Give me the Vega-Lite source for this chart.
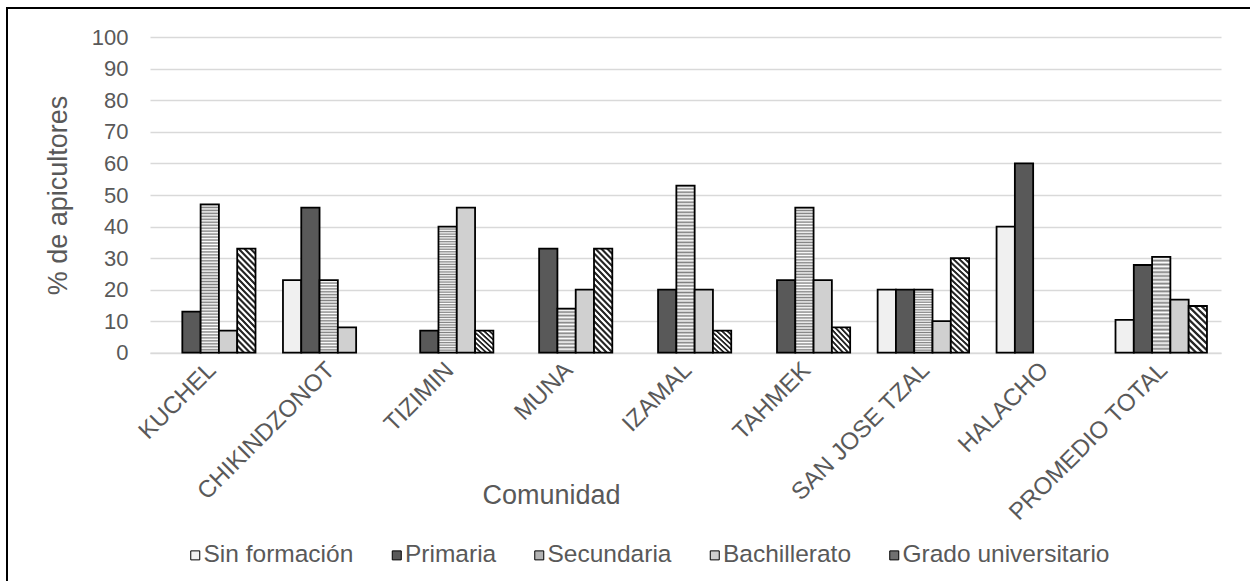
{
  "$schema": "https://vega.github.io/schema/vega-lite/v6.json",
  "autosize": {"type": "none"},
  "width": 1253,
  "height": 583,
  "padding": {"left": 7, "top": 8, "right": -10, "bottom": -10},
  "background": "#ffffff",
  "data": {
    "values": [
      {"comunidad": "KUCHEL", "nivel": "Sin formación", "pct": 0},
      {"comunidad": "KUCHEL", "nivel": "Primaria", "pct": 13},
      {"comunidad": "KUCHEL", "nivel": "Secundaria", "pct": 47},
      {"comunidad": "KUCHEL", "nivel": "Bachillerato", "pct": 7},
      {"comunidad": "KUCHEL", "nivel": "Grado universitario", "pct": 33},
      {"comunidad": "CHIKINDZONOT", "nivel": "Sin formación", "pct": 23},
      {"comunidad": "CHIKINDZONOT", "nivel": "Primaria", "pct": 46},
      {"comunidad": "CHIKINDZONOT", "nivel": "Secundaria", "pct": 23},
      {"comunidad": "CHIKINDZONOT", "nivel": "Bachillerato", "pct": 8},
      {"comunidad": "CHIKINDZONOT", "nivel": "Grado universitario", "pct": 0},
      {"comunidad": "TIZIMIN", "nivel": "Sin formación", "pct": 0},
      {"comunidad": "TIZIMIN", "nivel": "Primaria", "pct": 7},
      {"comunidad": "TIZIMIN", "nivel": "Secundaria", "pct": 40},
      {"comunidad": "TIZIMIN", "nivel": "Bachillerato", "pct": 46},
      {"comunidad": "TIZIMIN", "nivel": "Grado universitario", "pct": 7},
      {"comunidad": "MUNA", "nivel": "Sin formación", "pct": 0},
      {"comunidad": "MUNA", "nivel": "Primaria", "pct": 33},
      {"comunidad": "MUNA", "nivel": "Secundaria", "pct": 14},
      {"comunidad": "MUNA", "nivel": "Bachillerato", "pct": 20},
      {"comunidad": "MUNA", "nivel": "Grado universitario", "pct": 33},
      {"comunidad": "IZAMAL", "nivel": "Sin formación", "pct": 0},
      {"comunidad": "IZAMAL", "nivel": "Primaria", "pct": 20},
      {"comunidad": "IZAMAL", "nivel": "Secundaria", "pct": 53},
      {"comunidad": "IZAMAL", "nivel": "Bachillerato", "pct": 20},
      {"comunidad": "IZAMAL", "nivel": "Grado universitario", "pct": 7},
      {"comunidad": "TAHMEK", "nivel": "Sin formación", "pct": 0},
      {"comunidad": "TAHMEK", "nivel": "Primaria", "pct": 23},
      {"comunidad": "TAHMEK", "nivel": "Secundaria", "pct": 46},
      {"comunidad": "TAHMEK", "nivel": "Bachillerato", "pct": 23},
      {"comunidad": "TAHMEK", "nivel": "Grado universitario", "pct": 8},
      {"comunidad": "SAN JOSE TZAL", "nivel": "Sin formación", "pct": 20},
      {"comunidad": "SAN JOSE TZAL", "nivel": "Primaria", "pct": 20},
      {"comunidad": "SAN JOSE TZAL", "nivel": "Secundaria", "pct": 20},
      {"comunidad": "SAN JOSE TZAL", "nivel": "Bachillerato", "pct": 10},
      {"comunidad": "SAN JOSE TZAL", "nivel": "Grado universitario", "pct": 30},
      {"comunidad": "HALACHO", "nivel": "Sin formación", "pct": 40},
      {"comunidad": "HALACHO", "nivel": "Primaria", "pct": 60},
      {"comunidad": "HALACHO", "nivel": "Secundaria", "pct": 0},
      {"comunidad": "HALACHO", "nivel": "Bachillerato", "pct": 0},
      {"comunidad": "HALACHO", "nivel": "Grado universitario", "pct": 0},
      {"comunidad": "PROMEDIO TOTAL", "nivel": "Sin formación", "pct": 10.4},
      {"comunidad": "PROMEDIO TOTAL", "nivel": "Primaria", "pct": 27.8},
      {"comunidad": "PROMEDIO TOTAL", "nivel": "Secundaria", "pct": 30.4},
      {"comunidad": "PROMEDIO TOTAL", "nivel": "Bachillerato", "pct": 16.8},
      {"comunidad": "PROMEDIO TOTAL", "nivel": "Grado universitario", "pct": 14.8}
    ]
  },
  "transform": [{"filter": "datum.pct > 0"}],
  "mark": {"type": "bar", "stroke": "#000000", "strokeWidth": 1.8},
  "encoding": {
    "x": {
      "field": "comunidad",
      "type": "nominal",
      "sort": ["KUCHEL", "CHIKINDZONOT", "TIZIMIN", "MUNA", "IZAMAL", "TAHMEK", "SAN JOSE TZAL", "HALACHO", "PROMEDIO TOTAL"],
      "scale": {"range": [143, 1214], "paddingInner": 0.231, "paddingOuter": 0.118},
      "axis": {
        "title": "Comunidad",
        "labelAngle": -45,
        "labelFontSize": 24,
        "labelColor": "#595959",
        "labelPadding": 5,
        "labelOffset": -6,
        "labelLimit": 0,
        "labelOverlap": false,
        "ticks": false,
        "grid": false,
        "domainColor": "#d9d9d9",
        "domainWidth": 1.5,
        "offset": -238.3,
        "titleFontSize": 27,
        "titleColor": "#595959",
        "titleFontWeight": "normal",
        "titleX": 544,
        "titleY": 150.6,
        "titleBaseline": "alphabetic"
      }
    },
    "xOffset": {
      "field": "nivel",
      "type": "nominal",
      "scale": {"domain": ["Sin formación", "Primaria", "Secundaria", "Bachillerato", "Grado universitario"], "paddingInner": 0, "paddingOuter": 0}
    },
    "y": {
      "field": "pct",
      "type": "quantitative",
      "scale": {"domain": [0, 100], "range": [344.7, 29.3], "nice": false},
      "axis": {
        "title": "% de apicultores",
        "values": [0, 10, 20, 30, 40, 50, 60, 70, 80, 90, 100],
        "grid": true,
        "gridColor": "#d9d9d9",
        "gridWidth": 1.5,
        "domain": false,
        "ticks": false,
        "labelFontSize": 22,
        "labelColor": "#595959",
        "labelPadding": 22,
        "labelOverlap": false,
        "offset": -143,
        "titleFontSize": 27,
        "titleColor": "#595959",
        "titleFontWeight": "normal",
        "titleX": -83.5,
        "titleBaseline": "alphabetic"
      }
    },
    "fill": {
      "condition": [
        {
          "test": "datum.nivel === 'Secundaria' && datum.pct >= 35",
          "value": {
            "gradient": "linear", "x1": 0, "y1": 0, "x2": 0, "y2": 1,
            "stops": [
              {"offset": 0, "color": "#808080"}, {"offset": 0.01, "color": "#ffffff"}, {"offset": 0.02, "color": "#808080"}, {"offset": 0.03, "color": "#ffffff"},
              {"offset": 0.04, "color": "#808080"}, {"offset": 0.05, "color": "#ffffff"}, {"offset": 0.06, "color": "#808080"}, {"offset": 0.07, "color": "#ffffff"},
              {"offset": 0.08, "color": "#808080"}, {"offset": 0.09, "color": "#ffffff"}, {"offset": 0.1, "color": "#808080"}, {"offset": 0.11, "color": "#ffffff"},
              {"offset": 0.12, "color": "#808080"}, {"offset": 0.13, "color": "#ffffff"}, {"offset": 0.14, "color": "#808080"}, {"offset": 0.15, "color": "#ffffff"},
              {"offset": 0.16, "color": "#808080"}, {"offset": 0.17, "color": "#ffffff"}, {"offset": 0.18, "color": "#808080"}, {"offset": 0.19, "color": "#ffffff"},
              {"offset": 0.2, "color": "#808080"}, {"offset": 0.21, "color": "#ffffff"}, {"offset": 0.22, "color": "#808080"}, {"offset": 0.23, "color": "#ffffff"},
              {"offset": 0.24, "color": "#808080"}, {"offset": 0.25, "color": "#ffffff"}, {"offset": 0.26, "color": "#808080"}, {"offset": 0.27, "color": "#ffffff"},
              {"offset": 0.28, "color": "#808080"}, {"offset": 0.29, "color": "#ffffff"}, {"offset": 0.3, "color": "#808080"}, {"offset": 0.31, "color": "#ffffff"},
              {"offset": 0.32, "color": "#808080"}, {"offset": 0.33, "color": "#ffffff"}, {"offset": 0.34, "color": "#808080"}, {"offset": 0.35, "color": "#ffffff"},
              {"offset": 0.36, "color": "#808080"}, {"offset": 0.37, "color": "#ffffff"}, {"offset": 0.38, "color": "#808080"}, {"offset": 0.39, "color": "#ffffff"},
              {"offset": 0.4, "color": "#808080"}, {"offset": 0.41, "color": "#ffffff"}, {"offset": 0.42, "color": "#808080"}, {"offset": 0.43, "color": "#ffffff"},
              {"offset": 0.44, "color": "#808080"}, {"offset": 0.45, "color": "#ffffff"}, {"offset": 0.46, "color": "#808080"}, {"offset": 0.47, "color": "#ffffff"},
              {"offset": 0.48, "color": "#808080"}, {"offset": 0.49, "color": "#ffffff"}, {"offset": 0.5, "color": "#808080"}, {"offset": 0.51, "color": "#ffffff"},
              {"offset": 0.52, "color": "#808080"}, {"offset": 0.53, "color": "#ffffff"}, {"offset": 0.54, "color": "#808080"}, {"offset": 0.55, "color": "#ffffff"},
              {"offset": 0.56, "color": "#808080"}, {"offset": 0.57, "color": "#ffffff"}, {"offset": 0.58, "color": "#808080"}, {"offset": 0.59, "color": "#ffffff"},
              {"offset": 0.6, "color": "#808080"}, {"offset": 0.61, "color": "#ffffff"}, {"offset": 0.62, "color": "#808080"}, {"offset": 0.63, "color": "#ffffff"},
              {"offset": 0.64, "color": "#808080"}, {"offset": 0.65, "color": "#ffffff"}, {"offset": 0.66, "color": "#808080"}, {"offset": 0.67, "color": "#ffffff"},
              {"offset": 0.68, "color": "#808080"}, {"offset": 0.69, "color": "#ffffff"}, {"offset": 0.7, "color": "#808080"}, {"offset": 0.71, "color": "#ffffff"},
              {"offset": 0.72, "color": "#808080"}, {"offset": 0.73, "color": "#ffffff"}, {"offset": 0.74, "color": "#808080"}, {"offset": 0.75, "color": "#ffffff"},
              {"offset": 0.76, "color": "#808080"}, {"offset": 0.77, "color": "#ffffff"}, {"offset": 0.78, "color": "#808080"}, {"offset": 0.79, "color": "#ffffff"},
              {"offset": 0.8, "color": "#808080"}, {"offset": 0.81, "color": "#ffffff"}, {"offset": 0.82, "color": "#808080"}, {"offset": 0.83, "color": "#ffffff"},
              {"offset": 0.84, "color": "#808080"}, {"offset": 0.85, "color": "#ffffff"}, {"offset": 0.86, "color": "#808080"}, {"offset": 0.87, "color": "#ffffff"},
              {"offset": 0.88, "color": "#808080"}, {"offset": 0.89, "color": "#ffffff"}, {"offset": 0.9, "color": "#808080"}, {"offset": 0.91, "color": "#ffffff"},
              {"offset": 0.92, "color": "#808080"}, {"offset": 0.93, "color": "#ffffff"}, {"offset": 0.94, "color": "#808080"}, {"offset": 0.95, "color": "#ffffff"},
              {"offset": 0.96, "color": "#808080"}, {"offset": 0.97, "color": "#ffffff"}, {"offset": 0.98, "color": "#808080"}, {"offset": 0.99, "color": "#ffffff"},
              {"offset": 1, "color": "#808080"}
            ]
          }
        },
        {
          "test": "datum.nivel === 'Secundaria' && datum.pct >= 17",
          "value": {
            "gradient": "linear", "x1": 0, "y1": 0, "x2": 0, "y2": 1,
            "stops": [
              {"offset": 0, "color": "#808080"}, {"offset": 0.02, "color": "#ffffff"}, {"offset": 0.04, "color": "#808080"}, {"offset": 0.06, "color": "#ffffff"},
              {"offset": 0.08, "color": "#808080"}, {"offset": 0.1, "color": "#ffffff"}, {"offset": 0.12, "color": "#808080"}, {"offset": 0.14, "color": "#ffffff"},
              {"offset": 0.16, "color": "#808080"}, {"offset": 0.18, "color": "#ffffff"}, {"offset": 0.2, "color": "#808080"}, {"offset": 0.22, "color": "#ffffff"},
              {"offset": 0.24, "color": "#808080"}, {"offset": 0.26, "color": "#ffffff"}, {"offset": 0.28, "color": "#808080"}, {"offset": 0.3, "color": "#ffffff"},
              {"offset": 0.32, "color": "#808080"}, {"offset": 0.34, "color": "#ffffff"}, {"offset": 0.36, "color": "#808080"}, {"offset": 0.38, "color": "#ffffff"},
              {"offset": 0.4, "color": "#808080"}, {"offset": 0.42, "color": "#ffffff"}, {"offset": 0.44, "color": "#808080"}, {"offset": 0.46, "color": "#ffffff"},
              {"offset": 0.48, "color": "#808080"}, {"offset": 0.5, "color": "#ffffff"}, {"offset": 0.52, "color": "#808080"}, {"offset": 0.54, "color": "#ffffff"},
              {"offset": 0.56, "color": "#808080"}, {"offset": 0.58, "color": "#ffffff"}, {"offset": 0.6, "color": "#808080"}, {"offset": 0.62, "color": "#ffffff"},
              {"offset": 0.64, "color": "#808080"}, {"offset": 0.66, "color": "#ffffff"}, {"offset": 0.68, "color": "#808080"}, {"offset": 0.7, "color": "#ffffff"},
              {"offset": 0.72, "color": "#808080"}, {"offset": 0.74, "color": "#ffffff"}, {"offset": 0.76, "color": "#808080"}, {"offset": 0.78, "color": "#ffffff"},
              {"offset": 0.8, "color": "#808080"}, {"offset": 0.82, "color": "#ffffff"}, {"offset": 0.84, "color": "#808080"}, {"offset": 0.86, "color": "#ffffff"},
              {"offset": 0.88, "color": "#808080"}, {"offset": 0.9, "color": "#ffffff"}, {"offset": 0.92, "color": "#808080"}, {"offset": 0.94, "color": "#ffffff"},
              {"offset": 0.96, "color": "#808080"}, {"offset": 0.98, "color": "#ffffff"}, {"offset": 1, "color": "#808080"}
            ]
          }
        },
        {
          "test": "datum.nivel === 'Secundaria'",
          "value": {
            "gradient": "linear", "x1": 0, "y1": 0, "x2": 0, "y2": 1,
            "stops": [
              {"offset": 0, "color": "#808080"}, {"offset": 0.04, "color": "#ffffff"}, {"offset": 0.08, "color": "#808080"}, {"offset": 0.12, "color": "#ffffff"},
              {"offset": 0.16, "color": "#808080"}, {"offset": 0.2, "color": "#ffffff"}, {"offset": 0.24, "color": "#808080"}, {"offset": 0.28, "color": "#ffffff"},
              {"offset": 0.32, "color": "#808080"}, {"offset": 0.36, "color": "#ffffff"}, {"offset": 0.4, "color": "#808080"}, {"offset": 0.44, "color": "#ffffff"},
              {"offset": 0.48, "color": "#808080"}, {"offset": 0.52, "color": "#ffffff"}, {"offset": 0.56, "color": "#808080"}, {"offset": 0.6, "color": "#ffffff"},
              {"offset": 0.64, "color": "#808080"}, {"offset": 0.68, "color": "#ffffff"}, {"offset": 0.72, "color": "#808080"}, {"offset": 0.76, "color": "#ffffff"},
              {"offset": 0.8, "color": "#808080"}, {"offset": 0.84, "color": "#ffffff"}, {"offset": 0.88, "color": "#808080"}, {"offset": 0.92, "color": "#ffffff"},
              {"offset": 0.96, "color": "#808080"}, {"offset": 1, "color": "#ffffff"}
            ]
          }
        },
        {
          "test": "datum.nivel === 'Grado universitario' && datum.pct >= 25",
          "value": {
            "gradient": "linear", "x1": 0, "y1": 1, "x2": 0.208, "y2": -0.144,
            "stops": [
              {"offset": 0, "color": "#262626"}, {"offset": 0.015, "color": "#262626"}, {"offset": 0.025, "color": "#ffffff"}, {"offset": 0.04, "color": "#ffffff"},
              {"offset": 0.05, "color": "#262626"}, {"offset": 0.065, "color": "#262626"}, {"offset": 0.075, "color": "#ffffff"}, {"offset": 0.09, "color": "#ffffff"},
              {"offset": 0.1, "color": "#262626"}, {"offset": 0.115, "color": "#262626"}, {"offset": 0.125, "color": "#ffffff"}, {"offset": 0.14, "color": "#ffffff"},
              {"offset": 0.15, "color": "#262626"}, {"offset": 0.165, "color": "#262626"}, {"offset": 0.175, "color": "#ffffff"}, {"offset": 0.19, "color": "#ffffff"},
              {"offset": 0.2, "color": "#262626"}, {"offset": 0.215, "color": "#262626"}, {"offset": 0.225, "color": "#ffffff"}, {"offset": 0.24, "color": "#ffffff"},
              {"offset": 0.25, "color": "#262626"}, {"offset": 0.265, "color": "#262626"}, {"offset": 0.275, "color": "#ffffff"}, {"offset": 0.29, "color": "#ffffff"},
              {"offset": 0.3, "color": "#262626"}, {"offset": 0.315, "color": "#262626"}, {"offset": 0.325, "color": "#ffffff"}, {"offset": 0.34, "color": "#ffffff"},
              {"offset": 0.35, "color": "#262626"}, {"offset": 0.365, "color": "#262626"}, {"offset": 0.375, "color": "#ffffff"}, {"offset": 0.39, "color": "#ffffff"},
              {"offset": 0.4, "color": "#262626"}, {"offset": 0.415, "color": "#262626"}, {"offset": 0.425, "color": "#ffffff"}, {"offset": 0.44, "color": "#ffffff"},
              {"offset": 0.45, "color": "#262626"}, {"offset": 0.465, "color": "#262626"}, {"offset": 0.475, "color": "#ffffff"}, {"offset": 0.49, "color": "#ffffff"},
              {"offset": 0.5, "color": "#262626"}, {"offset": 0.515, "color": "#262626"}, {"offset": 0.525, "color": "#ffffff"}, {"offset": 0.54, "color": "#ffffff"},
              {"offset": 0.55, "color": "#262626"}, {"offset": 0.565, "color": "#262626"}, {"offset": 0.575, "color": "#ffffff"}, {"offset": 0.59, "color": "#ffffff"},
              {"offset": 0.6, "color": "#262626"}, {"offset": 0.615, "color": "#262626"}, {"offset": 0.625, "color": "#ffffff"}, {"offset": 0.64, "color": "#ffffff"},
              {"offset": 0.65, "color": "#262626"}, {"offset": 0.665, "color": "#262626"}, {"offset": 0.675, "color": "#ffffff"}, {"offset": 0.69, "color": "#ffffff"},
              {"offset": 0.7, "color": "#262626"}, {"offset": 0.715, "color": "#262626"}, {"offset": 0.725, "color": "#ffffff"}, {"offset": 0.74, "color": "#ffffff"},
              {"offset": 0.75, "color": "#262626"}, {"offset": 0.765, "color": "#262626"}, {"offset": 0.775, "color": "#ffffff"}, {"offset": 0.79, "color": "#ffffff"},
              {"offset": 0.8, "color": "#262626"}, {"offset": 0.815, "color": "#262626"}, {"offset": 0.825, "color": "#ffffff"}, {"offset": 0.84, "color": "#ffffff"},
              {"offset": 0.85, "color": "#262626"}, {"offset": 0.865, "color": "#262626"}, {"offset": 0.875, "color": "#ffffff"}, {"offset": 0.89, "color": "#ffffff"},
              {"offset": 0.9, "color": "#262626"}, {"offset": 0.915, "color": "#262626"}, {"offset": 0.925, "color": "#ffffff"}, {"offset": 0.94, "color": "#ffffff"},
              {"offset": 0.95, "color": "#262626"}, {"offset": 0.965, "color": "#262626"}, {"offset": 0.975, "color": "#ffffff"}, {"offset": 0.99, "color": "#ffffff"},
              {"offset": 1, "color": "#262626"}
            ]
          }
        },
        {
          "test": "datum.nivel === 'Grado universitario' && datum.pct >= 12",
          "value": {
            "gradient": "linear", "x1": 0, "y1": 1, "x2": 0.464, "y2": -0.206,
            "stops": [
              {"offset": 0, "color": "#262626"}, {"offset": 0.03, "color": "#262626"}, {"offset": 0.05, "color": "#ffffff"}, {"offset": 0.08, "color": "#ffffff"},
              {"offset": 0.1, "color": "#262626"}, {"offset": 0.13, "color": "#262626"}, {"offset": 0.15, "color": "#ffffff"}, {"offset": 0.18, "color": "#ffffff"},
              {"offset": 0.2, "color": "#262626"}, {"offset": 0.23, "color": "#262626"}, {"offset": 0.25, "color": "#ffffff"}, {"offset": 0.28, "color": "#ffffff"},
              {"offset": 0.3, "color": "#262626"}, {"offset": 0.33, "color": "#262626"}, {"offset": 0.35, "color": "#ffffff"}, {"offset": 0.38, "color": "#ffffff"},
              {"offset": 0.4, "color": "#262626"}, {"offset": 0.43, "color": "#262626"}, {"offset": 0.45, "color": "#ffffff"}, {"offset": 0.48, "color": "#ffffff"},
              {"offset": 0.5, "color": "#262626"}, {"offset": 0.53, "color": "#262626"}, {"offset": 0.55, "color": "#ffffff"}, {"offset": 0.58, "color": "#ffffff"},
              {"offset": 0.6, "color": "#262626"}, {"offset": 0.63, "color": "#262626"}, {"offset": 0.65, "color": "#ffffff"}, {"offset": 0.68, "color": "#ffffff"},
              {"offset": 0.7, "color": "#262626"}, {"offset": 0.73, "color": "#262626"}, {"offset": 0.75, "color": "#ffffff"}, {"offset": 0.78, "color": "#ffffff"},
              {"offset": 0.8, "color": "#262626"}, {"offset": 0.83, "color": "#262626"}, {"offset": 0.85, "color": "#ffffff"}, {"offset": 0.88, "color": "#ffffff"},
              {"offset": 0.9, "color": "#262626"}, {"offset": 0.93, "color": "#262626"}, {"offset": 0.95, "color": "#ffffff"}, {"offset": 0.98, "color": "#ffffff"},
              {"offset": 1, "color": "#262626"}
            ]
          }
        },
        {
          "test": "datum.nivel === 'Grado universitario'",
          "value": {
            "gradient": "linear", "x1": 0, "y1": 1, "x2": 0.855, "y2": -0.111,
            "stops": [
              {"offset": 0, "color": "#262626"}, {"offset": 0.0375, "color": "#262626"}, {"offset": 0.0625, "color": "#ffffff"}, {"offset": 0.1, "color": "#ffffff"},
              {"offset": 0.125, "color": "#262626"}, {"offset": 0.1625, "color": "#262626"}, {"offset": 0.1875, "color": "#ffffff"}, {"offset": 0.225, "color": "#ffffff"},
              {"offset": 0.25, "color": "#262626"}, {"offset": 0.2875, "color": "#262626"}, {"offset": 0.3125, "color": "#ffffff"}, {"offset": 0.35, "color": "#ffffff"},
              {"offset": 0.375, "color": "#262626"}, {"offset": 0.4125, "color": "#262626"}, {"offset": 0.4375, "color": "#ffffff"}, {"offset": 0.475, "color": "#ffffff"},
              {"offset": 0.5, "color": "#262626"}, {"offset": 0.5375, "color": "#262626"}, {"offset": 0.5625, "color": "#ffffff"}, {"offset": 0.6, "color": "#ffffff"},
              {"offset": 0.625, "color": "#262626"}, {"offset": 0.6625, "color": "#262626"}, {"offset": 0.6875, "color": "#ffffff"}, {"offset": 0.725, "color": "#ffffff"},
              {"offset": 0.75, "color": "#262626"}, {"offset": 0.7875, "color": "#262626"}, {"offset": 0.8125, "color": "#ffffff"}, {"offset": 0.85, "color": "#ffffff"},
              {"offset": 0.875, "color": "#262626"}, {"offset": 0.9125, "color": "#262626"}, {"offset": 0.9375, "color": "#ffffff"}, {"offset": 0.975, "color": "#ffffff"},
              {"offset": 1, "color": "#262626"}
            ]
          }
        }
      ],
      "field": "nivel",
      "type": "nominal",
      "scale": {
        "domain": ["Sin formación", "Primaria", "Secundaria", "Bachillerato", "Grado universitario"],
        "range": ["#f0f0f0", "#595959", "#b3b3b3", "#d0d0d0", "#707070"]
      },
      "legend": {
        "orient": "none",
        "legendX": 176,
        "legendY": 535,
        "direction": "horizontal",
        "title": null,
        "padding": 0,
        "symbolType": "square",
        "symbolSize": 81,
        "symbolStrokeColor": "#000000",
        "symbolStrokeWidth": 1,
        "labelFontSize": 24.5,
        "labelColor": "#595959",
        "labelOffset": -4,
        "columnPadding": 30.5,
        "labelLimit": 0
      }
    }
  },
  "config": {
    "font": "Liberation Sans",
    "view": {"stroke": "#000000", "strokeWidth": 2}
  }
}
